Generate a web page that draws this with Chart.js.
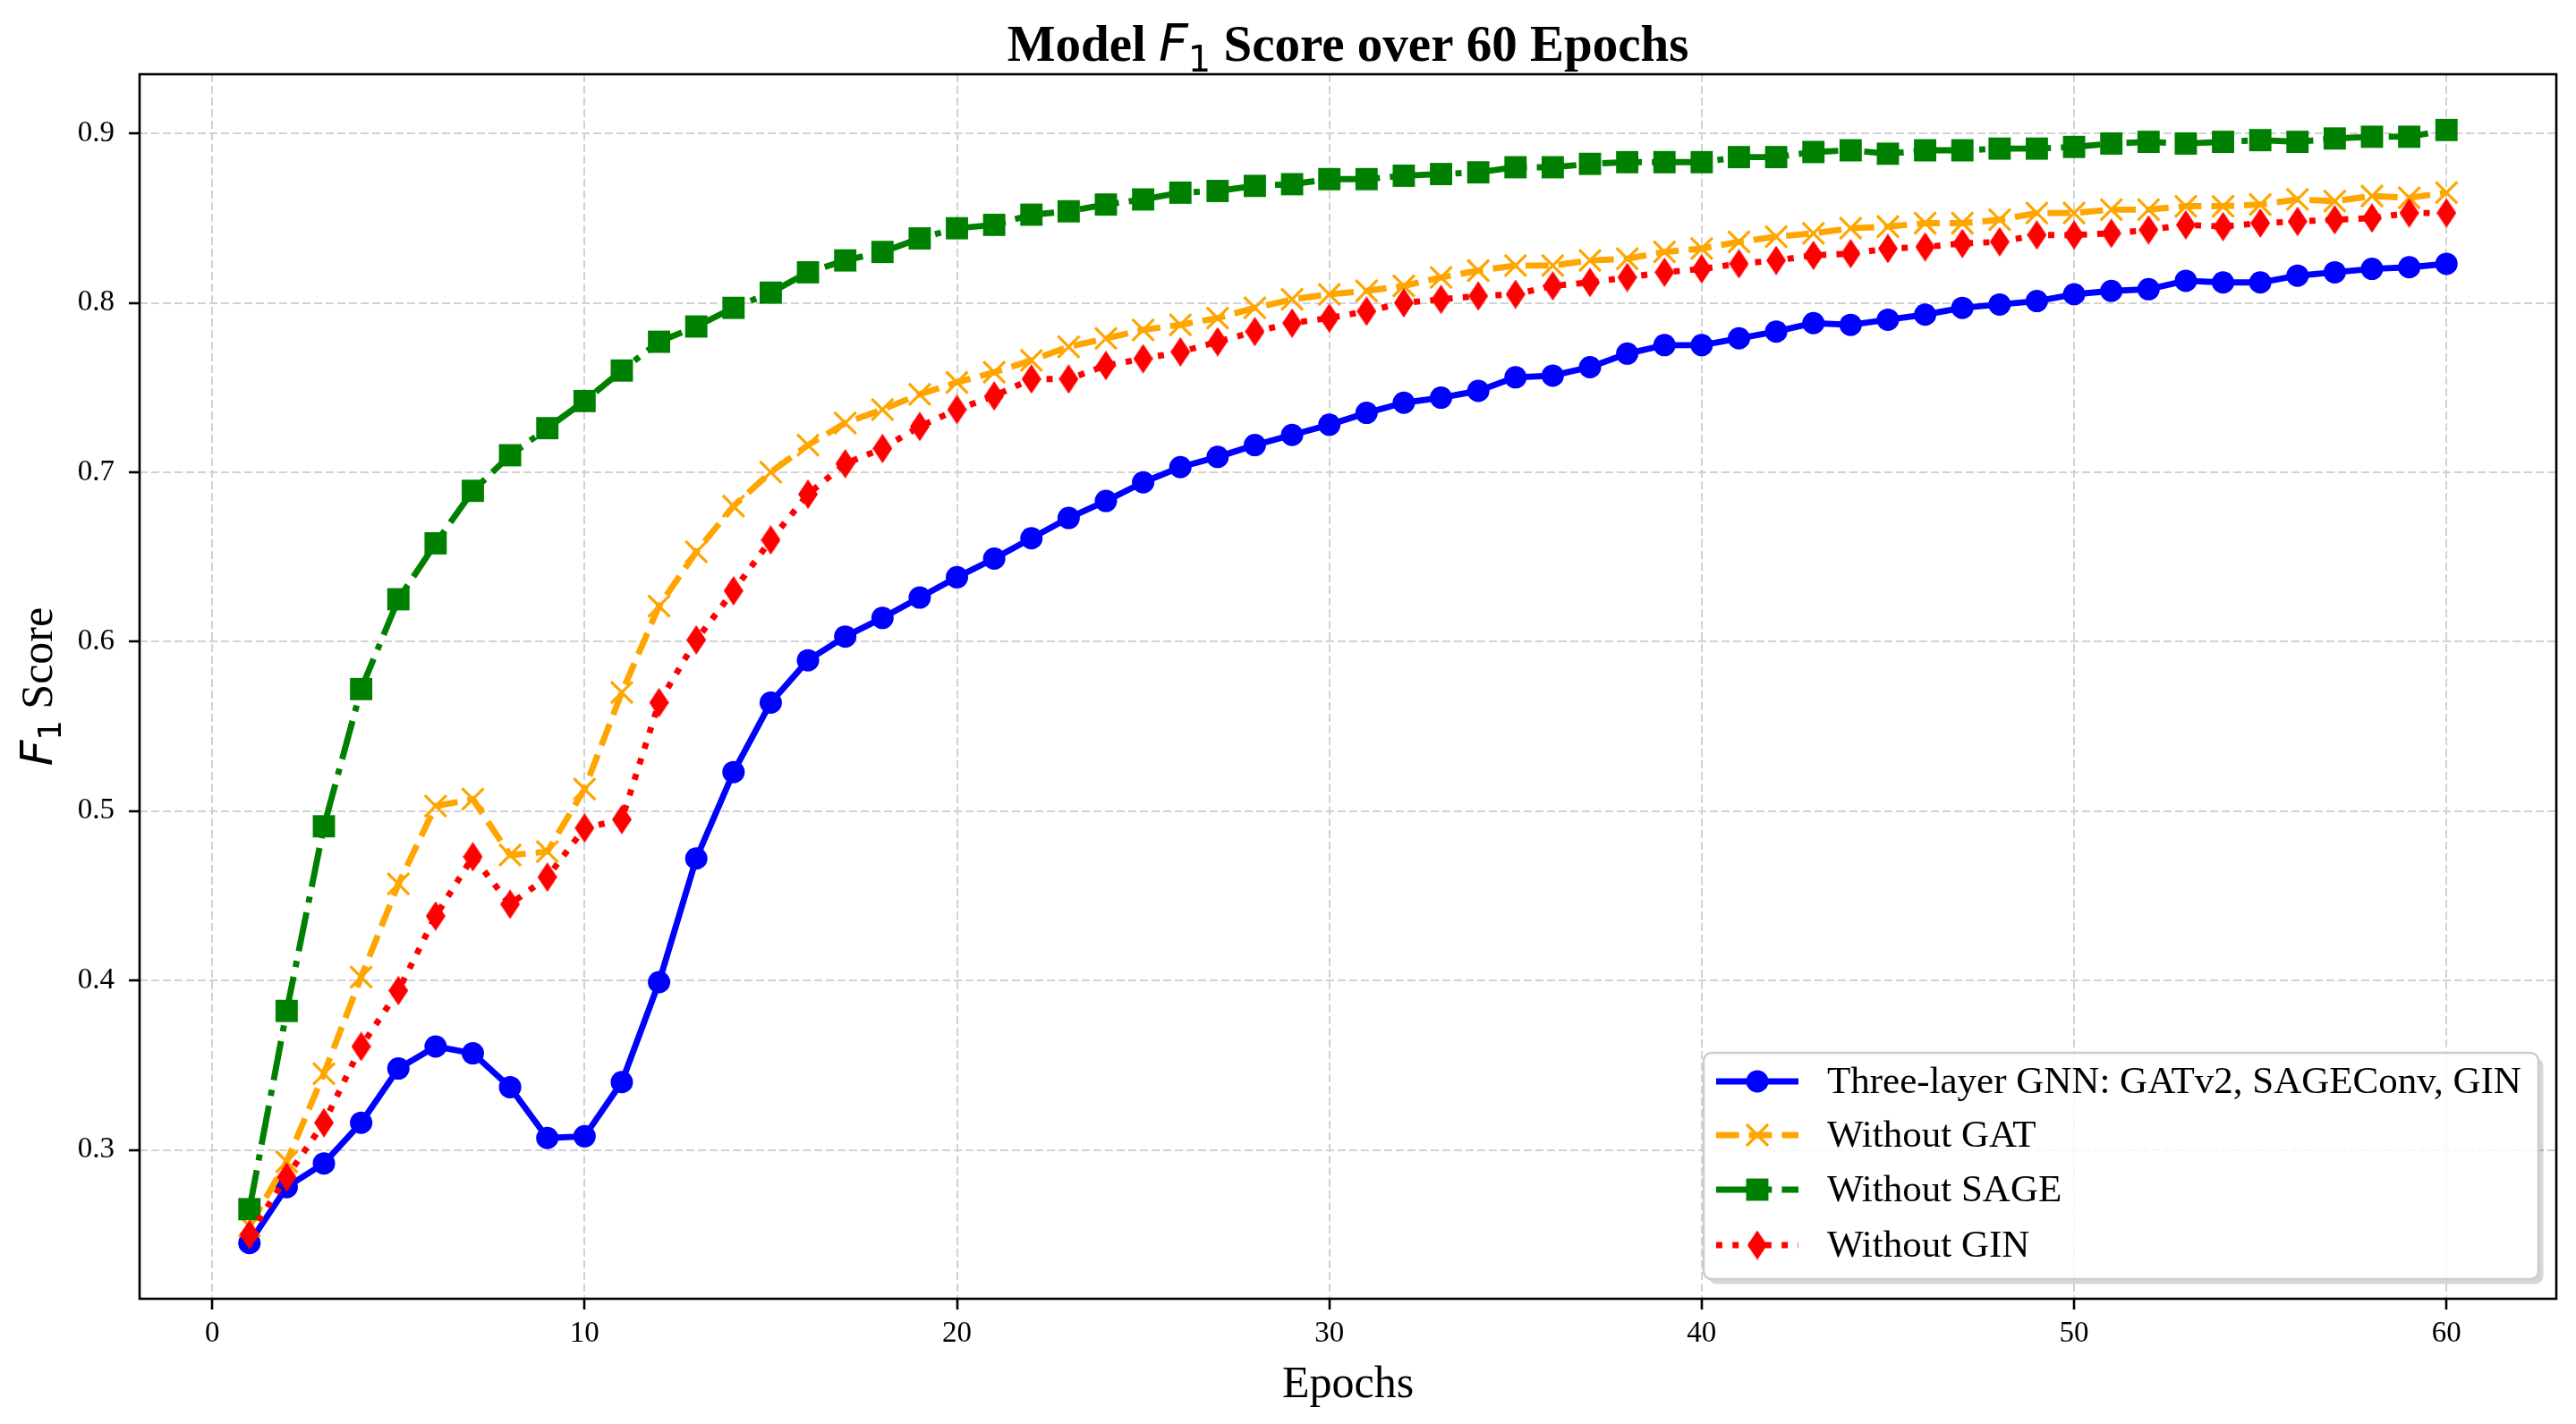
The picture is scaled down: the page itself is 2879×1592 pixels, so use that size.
<!DOCTYPE html>
<html>
<head>
<meta charset="utf-8">
<script src="https://cdn.jsdelivr.net/npm/chart.js@4.4.1/dist/chart.umd.min.js"></script>
<style>
html,body{margin:0;padding:0;background:#ffffff;overflow:hidden}
canvas{display:block}
</style>
</head>
<body>
<canvas id="c" width="2879" height="1592" style="width:2879px;height:1592px"></canvas>
<script>
// ---------------- data ----------------
const epochs = [1,2,3,4,5,6,7,8,9,10,11,12,13,14,15,16,17,18,19,20,
  21,22,23,24,25,26,27,28,29,30,31,32,33,34,35,36,37,38,39,40,
  41,42,43,44,45,46,47,48,49,50,51,52,53,54,55,56,57,58,59,60];

const threeLayer = [0.245,0.278,0.292,0.316,0.348,0.361,0.357,0.337,0.307,0.308,
  0.340,0.399,0.472,0.523,0.564,0.589,0.603,0.614,0.626,0.638,
  0.649,0.661,0.673,0.683,0.694,0.703,0.709,0.716,0.722,0.728,
  0.735,0.741,0.744,0.748,0.756,0.757,0.762,0.770,0.775,0.775,
  0.779,0.783,0.788,0.787,0.790,0.793,0.797,0.799,0.801,0.805,
  0.807,0.808,0.813,0.812,0.812,0.816,0.818,0.820,0.821,0.823];

const withoutGAT = [0.255,0.293,0.345,0.402,0.457,0.503,0.507,0.474,0.476,0.513,
  0.570,0.621,0.653,0.680,0.700,0.716,0.729,0.737,0.746,0.753,
  0.759,0.766,0.774,0.779,0.784,0.787,0.791,0.797,0.802,0.805,
  0.807,0.810,0.815,0.819,0.822,0.822,0.825,0.826,0.830,0.832,
  0.836,0.839,0.841,0.844,0.845,0.847,0.847,0.849,0.853,0.853,
  0.855,0.855,0.857,0.857,0.858,0.861,0.860,0.863,0.862,0.865];

const withoutSAGE = [0.265,0.382,0.491,0.572,0.625,0.658,0.689,0.710,0.726,0.742,
  0.760,0.777,0.786,0.797,0.806,0.818,0.825,0.830,0.838,0.844,
  0.846,0.852,0.854,0.858,0.861,0.865,0.866,0.869,0.870,0.873,
  0.873,0.875,0.876,0.877,0.880,0.880,0.882,0.883,0.883,0.883,
  0.886,0.886,0.889,0.890,0.888,0.890,0.890,0.891,0.891,0.892,
  0.894,0.895,0.894,0.895,0.896,0.895,0.897,0.898,0.898,0.902];

const withoutGIN = [0.250,0.284,0.316,0.361,0.394,0.438,0.473,0.445,0.461,0.490,
  0.495,0.564,0.601,0.630,0.660,0.687,0.705,0.714,0.727,0.737,
  0.745,0.755,0.755,0.763,0.767,0.771,0.777,0.783,0.788,0.791,
  0.795,0.800,0.802,0.804,0.805,0.810,0.812,0.815,0.818,0.820,
  0.823,0.825,0.828,0.829,0.832,0.833,0.835,0.836,0.840,0.840,
  0.841,0.843,0.846,0.845,0.847,0.848,0.849,0.850,0.853,0.853];

const seriesLabels = ['Three-layer GNN: GATv2, SAGEConv, GIN','Without GAT','Without SAGE','Without GIN'];
const xTicks = [0,10,20,30,40,50,60];
const yTicks = [0.3,0.4,0.5,0.6,0.7,0.8,0.9];

// ---------------- styling ----------------
const SERIF = '"Liberation Serif", "Times New Roman", serif';
const MATH = '"DejaVu Sans", sans-serif';
const LW = 6.9;
const styles = [
  {color:'#0000ff', dash:[], marker:'circle'},
  {color:'#ffa500', dash:[25.6,11.1], marker:'x'},
  {color:'#008000', dash:[44.3,11.1,6.9,11.1], marker:'square'},
  {color:'#ff0000', dash:[6.9,11.4], marker:'diamond'}
];

function thinDiamond(color, w, h) {
  const c = document.createElement('canvas');
  c.width = w; c.height = h;
  const g = c.getContext('2d');
  g.fillStyle = color;
  g.beginPath();
  g.moveTo(w/2, 0); g.lineTo(w, h/2); g.lineTo(w/2, h); g.lineTo(0, h/2);
  g.closePath(); g.fill();
  return c;
}
const diamondImg = thinDiamond('#ff0000', 22, 33);

function pts(vals) { return epochs.map((e, i) => ({x: e, y: vals[i]})); }

const seriesValues = [threeLayer, withoutGAT, withoutSAGE, withoutGIN];
const markerOpts = [
  {pointStyle:'circle', pointRadius:12.5, pointBorderWidth:0},
  {pointStyle:'crossRot', pointRadius:17, pointBorderWidth:3.2},
  {pointStyle:'rect', pointRadius:17.6, pointBorderWidth:0},
  {pointStyle:diamondImg, pointRadius:16, pointBorderWidth:0}
];

const datasets = seriesValues.map((vals, i) => Object.assign({
  label: seriesLabels[i],
  data: pts(vals),
  borderColor: styles[i].color,
  backgroundColor: styles[i].color,
  pointBackgroundColor: styles[i].color,
  pointBorderColor: styles[i].color,
  borderWidth: LW,
  borderDash: styles[i].dash,
  borderCapStyle: 'butt',
  borderJoinStyle: 'round',
  tension: 0,
  fill: false,
  order: 4 - i,
  pointHoverRadius: markerOpts[i].pointRadius
}, markerOpts[i]));

// ---------------- helpers ----------------
function richWidth(ctx, segs) {
  let w = 0;
  for (const s of segs) { ctx.font = s.font; w += ctx.measureText(s.text).width + (s.after || 0); }
  return w;
}
function drawRich(ctx, segs, cx, baseline) {
  const w = richWidth(ctx, segs);
  let x = cx - w / 2;
  ctx.textAlign = 'left';
  ctx.textBaseline = 'alphabetic';
  ctx.fillStyle = '#000';
  for (const s of segs) {
    ctx.font = s.font;
    ctx.fillText(s.text, x, baseline + (s.dy || 0));
    x += ctx.measureText(s.text).width + (s.after || 0);
  }
}

function drawMarker(ctx, kind, color, x, y) {
  ctx.save();
  ctx.fillStyle = color; ctx.strokeStyle = color; ctx.setLineDash([]);
  if (kind === 'circle') {
    ctx.beginPath(); ctx.arc(x, y, 12.5, 0, Math.PI * 2); ctx.fill();
  } else if (kind === 'square') {
    ctx.fillRect(x - 12.45, y - 12.45, 24.9, 24.9);
  } else if (kind === 'x') {
    const r = 12;
    ctx.lineWidth = 3.2;
    ctx.beginPath();
    ctx.moveTo(x - r, y - r); ctx.lineTo(x + r, y + r);
    ctx.moveTo(x - r, y + r); ctx.lineTo(x + r, y - r);
    ctx.stroke();
  } else if (kind === 'diamond') {
    ctx.drawImage(diamondImg, x - diamondImg.width / 2, y - diamondImg.height / 2);
  }
  ctx.restore();
}

function addRoundRect(ctx, x, y, w, h, r) {
  ctx.moveTo(x + r, y);
  ctx.lineTo(x + w - r, y); ctx.arcTo(x + w, y, x + w, y + r, r);
  ctx.lineTo(x + w, y + h - r); ctx.arcTo(x + w, y + h, x + w - r, y + h, r);
  ctx.lineTo(x + r, y + h); ctx.arcTo(x, y + h, x, y + h - r, r);
  ctx.lineTo(x, y + r); ctx.arcTo(x, y, x + r, y, r);
  ctx.closePath();
}

// ---------------- plugins ----------------
const decorPlugin = {
  id: 'decor',
  afterDraw(chart) {
    const ctx = chart.ctx;
    const a = chart.chartArea;
    // frame
    ctx.save();
    ctx.strokeStyle = '#000';
    ctx.lineWidth = 2.6;
    ctx.setLineDash([]);
    ctx.strokeRect(a.left, a.top, a.right - a.left, a.bottom - a.top);
    ctx.restore();

    const cx = (a.left + a.right) / 2;
    const cy = (a.top + a.bottom) / 2;

    // title
    ctx.save();
    drawRich(ctx, [
      {text: 'Model ', font: 'bold 57px ' + SERIF},
      {text: 'F', font: 'italic 57px ' + MATH},
      {text: '1', font: '40px ' + MATH, dy: 12},
      {text: ' Score over 60 Epochs', font: 'bold 57px ' + SERIF}
    ], cx, 68);
    ctx.restore();

    // x label
    ctx.save();
    drawRich(ctx, [{text: 'Epochs', font: '50px ' + SERIF}], cx, 1562);
    ctx.restore();

    // y label
    ctx.save();
    ctx.translate(58, cy);
    ctx.rotate(-Math.PI / 2);
    drawRich(ctx, [
      {text: 'F', font: 'italic 50px ' + MATH},
      {text: '1', font: '35px ' + MATH, dy: 10},
      {text: ' Score', font: '50px ' + SERIF}
    ], 0, 0);
    ctx.restore();

    // legend
    const bx = 1904, by = 1177, bw = 933, bh = 253;
    ctx.save();
    // shadow, only outside the box
    ctx.save();
    ctx.beginPath();
    ctx.rect(0, 0, chart.width, chart.height);
    addRoundRect(ctx, bx, by, bw, bh, 9);
    ctx.clip('evenodd');
    ctx.beginPath();
    addRoundRect(ctx, bx + 5.5, by + 5.5, bw, bh, 9);
    ctx.fillStyle = 'rgba(0,0,0,0.16)';
    ctx.fill();
    ctx.restore();

    ctx.beginPath();
    addRoundRect(ctx, bx, by, bw, bh, 9);
    ctx.fillStyle = 'rgba(255,255,255,0.82)';
    ctx.fill();
    ctx.strokeStyle = '#cccccc';
    ctx.lineWidth = 2.5;
    ctx.stroke();
    const rows = [1209, 1269, 1330, 1392];
    for (let i = 0; i < 4; i++) {
      const y = rows[i];
      ctx.save();
      ctx.strokeStyle = styles[i].color;
      ctx.lineWidth = LW;
      ctx.lineCap = 'butt';
      ctx.setLineDash(styles[i].dash);
      ctx.beginPath();
      ctx.moveTo(1918, y); ctx.lineTo(2010, y);
      ctx.stroke();
      ctx.restore();
      drawMarker(ctx, styles[i].marker, styles[i].color, 1964, y);
      ctx.fillStyle = '#000';
      ctx.font = '43px ' + SERIF;
      ctx.textAlign = 'left';
      ctx.textBaseline = 'middle';
      ctx.fillText(seriesLabels[i], 2042, y + 2);
    }
    ctx.restore();
  }
};

// ---------------- chart ----------------
const gridCommon = {
  color: '#d2d2d2',
  lineWidth: 2,
  drawTicks: true,
  tickLength: 12,
  tickWidth: 2.6,
  tickColor: '#000000'
};

new Chart(document.getElementById('c').getContext('2d'), {
  type: 'line',
  data: {datasets: datasets},
  options: {
    responsive: false,
    animation: false,
    devicePixelRatio: 1,
    events: [],
    layout: {padding: {left: 0, right: 22, top: 83, bottom: 0}},
    plugins: {
      legend: {display: false},
      title: {display: false},
      tooltip: {enabled: false}
    },
    scales: {
      x: {
        type: 'linear',
        min: -1.95,
        max: 62.95,
        afterFit(s) { s.height = 140; },
        afterBuildTicks(s) { s.ticks = xTicks.map(v => ({value: v})); },
        grid: gridCommon,
        border: {display: false, dash: [9, 4]},
        ticks: {
          color: '#000',
          font: {family: SERIF, size: 33},
          padding: 8,
          maxRotation: 0,
          autoSkip: false,
          callback: v => String(v)
        }
      },
      y: {
        type: 'linear',
        min: 0.2121,
        max: 0.9349,
        afterFit(s) { s.width = 156; },
        afterBuildTicks(s) { s.ticks = yTicks.map(v => ({value: v})); },
        grid: gridCommon,
        border: {display: false, dash: [9, 4]},
        ticks: {
          color: '#000',
          font: {family: SERIF, size: 33},
          padding: 16,
          autoSkip: false,
          callback: v => Number(v).toFixed(1)
        }
      }
    }
  },
  plugins: [decorPlugin]
});
</script>
</body>
</html>
